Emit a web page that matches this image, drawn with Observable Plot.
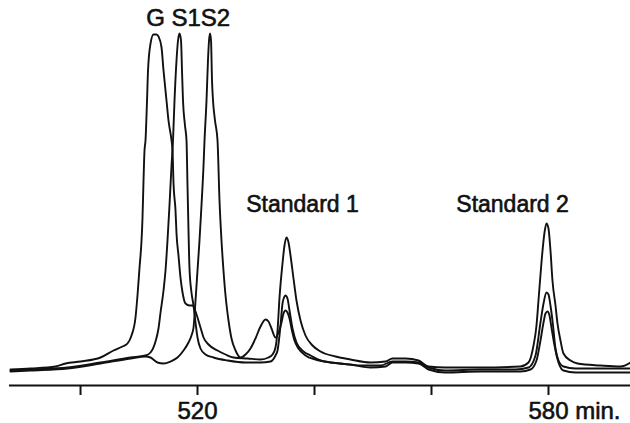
<!DOCTYPE html>
<html>
<head>
<meta charset="utf-8">
<script src="https://cdn.jsdelivr.net/npm/d3@7"></script>
<script src="https://cdn.jsdelivr.net/npm/@observablehq/plot@0.6"></script>
<style>
  html, body { margin: 0; padding: 0; background: #fff; }
  #chart svg { display: block; }
</style>
</head>
<body>
<div id="chart"></div>
<script>
// Retention time (min) and detector signal (arbitrary units) for each trace
const gTime = [488.03,491.45,495.73,497.44,500.00,503.42,505.64,507.18,508.03,508.72,509.40,509.74,510.09,510.43,510.60,510.77,510.94,511.11,511.37,511.54,511.97,512.48,512.99,513.33,513.85,514.19,514.70,515.04,515.56,515.73,515.90,516.24,516.41,516.75,517.09,517.44,517.95,518.63,519.15,519.66,520.00,520.51,521.03,521.88,523.42,524.79,526.15,528.55,530.77,532.14,532.82,533.33,533.68,534.02,534.53,534.87,535.21,535.56,535.90,536.41,536.92,537.61,538.46,539.66,541.03,543.59,546.15,549.57,552.14,553.33,555.56,557.78,559.49,562.39,568.38,575.21,576.58,577.44,577.95,578.29,578.80,579.32,579.66,580.00,580.34,580.68,581.20,581.54,582.05,582.56,583.76,584.96,588.89,592.31,594.02];
const gSignal = [16,17,19,22,24,28,35,39,42,50,68,90,118,145,168,205,235,245,285,315,342,351,351,349,338,315,285,265,245,235,202,175,152,130,108,93,82,80,80,74,68,58,48,41,35,31,28,27,26,28,31,38,55,88,122,140,148,143,130,107,85,65,50,40,34,29,26,23,24,27,27,25,19,18,18,19,23,40,60,85,123,153,162,157,135,105,80,62,45,32,25,22,20,19,23];

const s1Time = [488.03,491.45,497.78,503.42,508.55,511.11,511.97,512.82,513.33,513.68,514.19,514.53,514.87,515.21,515.56,515.81,516.07,516.41,516.67,516.92,517.18,517.35,517.52,517.86,518.12,518.29,518.46,518.63,518.97,519.32,519.66,520.00,520.51,521.37,522.74,525.13,528.21,530.77,532.48,533.33,533.68,534.19,534.53,534.87,535.04,535.38,535.73,536.24,536.92,538.12,539.32,541.03,544.44,547.86,551.28,553.33,555.56,557.78,559.49,562.39,568.38,574.36,576.58,577.78,578.63,579.15,579.66,580.00,580.34,580.68,581.20,581.71,582.56,584.62,588.89,594.02];
const s1Signal = [15,16,18,23,28,30,33,44,57,73,95,115,145,180,220,245,285,325,345,352,345,315,285,260,245,200,155,117,93,80,63,48,37,31,28,25,23,23,24,30,35,60,82,89,90,87,75,57,43,34,30,25,22,20,20,24,24,23,18,15,16,16,18,30,63,82,93,91,80,65,37,25,19,17,17,17];

const s2Time = [488.03,491.45,497.78,503.42,508.55,511.11,511.97,513.16,514.19,515.38,516.58,517.61,518.46,518.97,519.32,519.66,520.00,520.34,520.68,521.03,521.20,521.54,521.79,521.97,522.14,522.31,522.48,522.65,522.99,523.42,523.76,524.10,524.44,524.79,525.30,525.81,526.50,527.35,528.21,529.06,529.91,530.77,531.62,532.14,532.65,533.33,533.85,534.36,534.70,535.04,535.38,535.73,536.07,536.58,537.26,538.46,540.17,542.74,546.15,549.57,552.14,553.33,555.56,557.78,559.49,562.39,568.38,575.21,576.92,577.95,578.63,579.15,579.49,579.83,580.17,580.51,581.03,581.71,582.56,584.62,588.89,594.02];
const s2Signal = [14,15,17,22,27,29,28,23,22,24,28,35,43,50,58,85,115,145,180,220,245,285,325,345,352,345,305,285,265,245,185,145,115,90,65,47,35,28,31,37,47,59,66,64,57,48,53,63,72,75,73,67,57,45,37,30,26,23,21,18,19,23,23,22,16,13,14,14,16,25,45,63,72,74,70,58,40,23,15,13,13,13];

// Axis ticks and labels
const tickTimes = [500, 520, 540, 560, 580];
const axisLabelCentered = ["520"];
const axisLabelCenteredTimes = [520];
const axisLabelUnit = ["580 min."];
const axisLabelUnitTimes = [580];

// Peak annotations
const peakNames = ["G", "S1", "S2"];
const peakNameTimes = [512.82, 518.07, 523.05];
const peakNameLevel = 367;
const standardNames = ["Standard 1", "Standard 2"];
const standardNameTimes = [537.95, 573.86];
const standardNameLevel = 181;

const traces = [
  {name: "G", time: gTime, signal: gSignal},
  {name: "S1", time: s1Time, signal: s1Signal},
  {name: "S2", time: s2Time, signal: s2Signal}
];
const rows = traces.flatMap(tr => tr.time.map((t, i) => ({trace: tr.name, time: t, signal: tr.signal[i]})));

const font = "'Liberation Sans', Arial, Helvetica, sans-serif";
const ink = "#111";
const textStyle = {fill: ink, stroke: ink, strokeWidth: 0.6, paintOrder: "fill"};

const chart = Plot.plot({
  width: 630,
  height: 423,
  marginLeft: 9,
  marginRight: 0,
  marginTop: 0,
  marginBottom: 38,
  style: {fontFamily: font, background: "#fff", color: "#000"},
  x: {domain: [487.86, 594.02], axis: null},
  y: {domain: [0, 385], axis: null},
  marks: [
    Plot.ruleY([0], {stroke: ink, strokeWidth: 2}),
    Plot.axisX({ticks: tickTimes, tickSize: 10, tickFormat: () => "", label: null, strokeWidth: 2, stroke: ink}),
    Plot.line(rows, {x: "time", y: "signal", z: "trace", stroke: ink, strokeWidth: 1.9, curve: "monotone-x"}),
    Plot.text(axisLabelCentered, {x: (d, i) => axisLabelCenteredTimes[i], text: d => d, frameAnchor: "bottom", lineAnchor: "top", dy: 16, fontSize: 24, ...textStyle}),
    Plot.text(axisLabelUnit, {x: (d, i) => axisLabelUnitTimes[i], text: d => d, frameAnchor: "bottom", lineAnchor: "top", textAnchor: "start", dx: -20, dy: 16, fontSize: 24, ...textStyle}),
    Plot.text(peakNames, {x: (d, i) => peakNameTimes[i], y: () => peakNameLevel, text: d => d, fontSize: 24, ...textStyle}),
    Plot.text(standardNames, {x: (d, i) => standardNameTimes[i], y: () => standardNameLevel, text: d => d, fontSize: 23, ...textStyle})
  ]
});
document.getElementById("chart").appendChild(chart);
</script>
</body>
</html>
